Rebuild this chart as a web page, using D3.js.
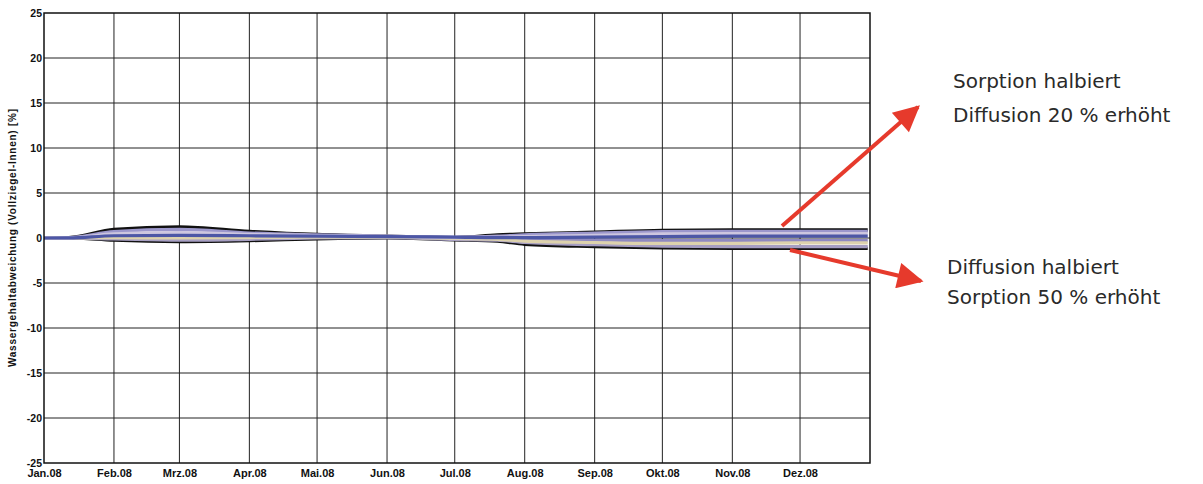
<!DOCTYPE html>
<html>
<head>
<meta charset="utf-8">
<script src="https://cdn.jsdelivr.net/npm/d3@7"></script>
<style>
  body { margin: 0; background: #fff; }
  svg { display: block; }
  .tick text { font-family: "Liberation Sans", Arial, sans-serif; font-weight: bold; }
  .note { font-family: "DejaVu Sans", sans-serif; fill: #2a2a2a; }
</style>
</head>
<body>
<svg width="1203" height="484"></svg>
<script>
// tick labels
var monthLabels = ["Jan.08", "Feb.08", "Mrz.08", "Apr.08", "Mai.08", "Jun.08",
                   "Jul.08", "Aug.08", "Sep.08", "Okt.08", "Nov.08", "Dez.08"]
var yTicks = [-25, -20, -15, -10, -5, 0, 5, 10, 15, 20, 25]

// sample dates of the simulated curves
var sampleDates = ["2008-01-01", "2008-01-12", "2008-02-01", "2008-03-01", "2008-04-01",
                   "2008-05-01", "2008-06-01", "2008-07-01", "2008-07-20", "2008-08-01",
                   "2008-09-01", "2008-10-01", "2008-11-01", "2008-12-01", "2008-12-31"]

// water content deviation [%] of each variant
var varTop    = [0, 0.05, 0.95, 1.25, 0.75, 0.4, 0.2, 0.05, 0.35, 0.45, 0.65, 0.85, 0.9, 0.9, 0.9]
var varLav    = [0, 0.03, 0.7, 0.95, 0.55, 0.35, 0.2, 0.08, 0.2, 0.35, 0.55, 0.7, 0.75, 0.75, 0.75]
var varLight  = [0, 0.02, 0.45, 0.6, 0.4, 0.28, 0.18, 0.05, 0.08, 0.15, 0.3, 0.45, 0.5, 0.5, 0.5]
var varLav2   = [0, 0.01, 0.15, 0.2, 0.15, 0.12, 0.1, 0, -0.1, -0.2, -0.25, -0.3, -0.3, -0.3, -0.3]
var varYellow = [0, 0, 0.05, 0, 0.05, 0.1, 0.1, -0.05, -0.15, -0.35, -0.5, -0.6, -0.6, -0.55, -0.55]
var varGray   = [0, 0, -0.1, -0.25, -0.15, 0, 0.05, -0.15, -0.25, -0.5, -0.75, -0.9, -0.95, -0.95, -0.95]
var varBottom = [0, 0, -0.25, -0.4, -0.3, -0.1, 0, -0.2, -0.35, -0.7, -0.95, -1.1, -1.15, -1.15, -1.15]
var varBlue   = [0, 0.01, 0.25, 0.3, 0.25, 0.2, 0.15, 0.1, 0.05, 0.05, 0.1, 0.15, 0.2, 0.2, 0.2]

var seriesList = [
  {values: varTop, color: "#111"},
  {values: varBottom, color: "#111"},
  {values: varGray, color: "#a69ec2"},
  {values: varLav, color: "#9c97cc"},
  {values: varLav2, color: "#8f89c0"},
  {values: varYellow, color: "#ddd2ad"},
  {values: varLight, color: "#cdc6df"},
  {values: varBlue, color: "#4d57a6"}
]

var noteTexts = [["Sorption halbiert", "Diffusion 20 % erhöht"],
                 ["Diffusion halbiert", "Sorption 50 % erhöht"]]

var plotLeft = 44, plotRight = 870, plotTop = 13, plotBottom = 463

var svg = d3.select("svg")
var parse = d3.timeParse("%Y-%m-%d")
var dates = sampleDates.map(parse)

var x = d3.scaleTime()
            .domain([new Date(2008, 0, 1), new Date(2009, 0, 1)])
            .range([plotLeft, plotRight])
var y = d3.scaleLinear().domain([-25, 25]).range([plotBottom, plotTop])

var monthStarts = d3.range(12).map(function (m) { return new Date(2008, m, 1) })

// grid
svg.append("g")
  .selectAll("line")
  .data(monthStarts.slice(1))
  .enter().append("line")
    .attr("x1", function (d) { return x(d) })
    .attr("x2", function (d) { return x(d) })
    .attr("y1", plotTop).attr("y2", plotBottom)
    .attr("stroke", "#222").attr("stroke-width", 1)
svg.append("g")
  .selectAll("line")
  .data(yTicks.slice(1, -1))
  .enter().append("line")
    .attr("x1", plotLeft).attr("x2", plotRight)
    .attr("y1", function (d) { return y(d) })
    .attr("y2", function (d) { return y(d) })
    .attr("stroke", "#222").attr("stroke-width", 1)

// curves
svg.append("clipPath").attr("id", "plot")
  .append("rect").attr("x", plotLeft).attr("y", plotTop)
  .attr("width", plotRight - plotLeft).attr("height", plotBottom - plotTop)

var line = d3.line()
  .x(function (d, i) { return x(dates[i]) })
  .y(function (d) { return y(d) })
  .curve(d3.curveMonotoneX)

svg.append("g").attr("clip-path", "url(#plot)")
  .selectAll("path")
  .data(seriesList)
  .enter().append("path")
    .attr("d", function (s) { return line(s.values) })
    .attr("fill", "none")
    .attr("stroke", function (s) { return s.color })
    .attr("stroke-width", 3.2)

// frame
svg.append("rect")
  .attr("x", plotLeft).attr("y", plotTop)
  .attr("width", plotRight - plotLeft).attr("height", plotBottom - plotTop)
  .attr("fill", "none").attr("stroke", "#111").attr("stroke-width", 1.5)

// axes
var yAxis = svg.append("g")
  .attr("transform", "translate(" + plotLeft + ",0)")
  .call(d3.axisLeft(y).tickValues(yTicks).tickSize(0).tickPadding(2)
          .tickFormat(function (d) { return String(d) }))
yAxis.select(".domain").remove()
yAxis.selectAll("text").style("font-size", "10.5px").attr("fill", "#111")

var xAxis = svg.append("g")
  .attr("transform", "translate(0," + plotBottom + ")")
  .call(d3.axisBottom(x).tickValues(monthStarts).tickSize(0).tickPadding(6)
          .tickFormat(function (d, i) { return monthLabels[i] }))
xAxis.select(".domain").remove()
xAxis.selectAll("text").style("font-size", "11px").attr("fill", "#111")

svg.append("text")
  .attr("transform", "translate(16," + y(0) + ") rotate(-90)")
  .attr("text-anchor", "middle")
  .style("font-family", "'Liberation Sans', Arial, sans-serif")
  .style("font-weight", "bold")
  .style("font-size", "10px")
  .attr("textLength", 258)
  .attr("lengthAdjust", "spacing")
  .attr("fill", "#111")
  .text("Wassergehaltabweichung (Vollziegel-Innen) [%]")

// annotations
var red = "#e63a2c"
svg.append("defs").append("marker")
    .attr("id", "head")
    .attr("viewBox", "0 0 10 10")
    .attr("refX", 9).attr("refY", 5)
    .attr("markerWidth", 7).attr("markerHeight", 6.5)
    .attr("markerUnits", "strokeWidth")
    .attr("orient", "auto")
  .append("path")
    .attr("d", "M0,0 L10,5 L0,10 Z")
    .attr("fill", red)

var arrows = [[782, 226, 918, 107], [790, 250, 921, 281]]
svg.append("g")
  .selectAll("line")
  .data(arrows)
  .enter().append("line")
    .attr("x1", function (a) { return a[0] })
    .attr("y1", function (a) { return a[1] })
    .attr("x2", function (a) { return a[2] })
    .attr("y2", function (a) { return a[3] })
    .attr("stroke", red).attr("stroke-width", 4)
    .attr("marker-end", "url(#head)")

var notePos = [[953, 88, 34], [947, 274, 30]]
noteTexts.forEach(function (lines, k) {
  lines.forEach(function (t, j) {
    svg.append("text")
      .attr("class", "note")
      .attr("x", notePos[k][0])
      .attr("y", notePos[k][1] + j * notePos[k][2])
      .style("font-size", "20px")
      .text(t)
  })
})
</script>
</body>
</html>
